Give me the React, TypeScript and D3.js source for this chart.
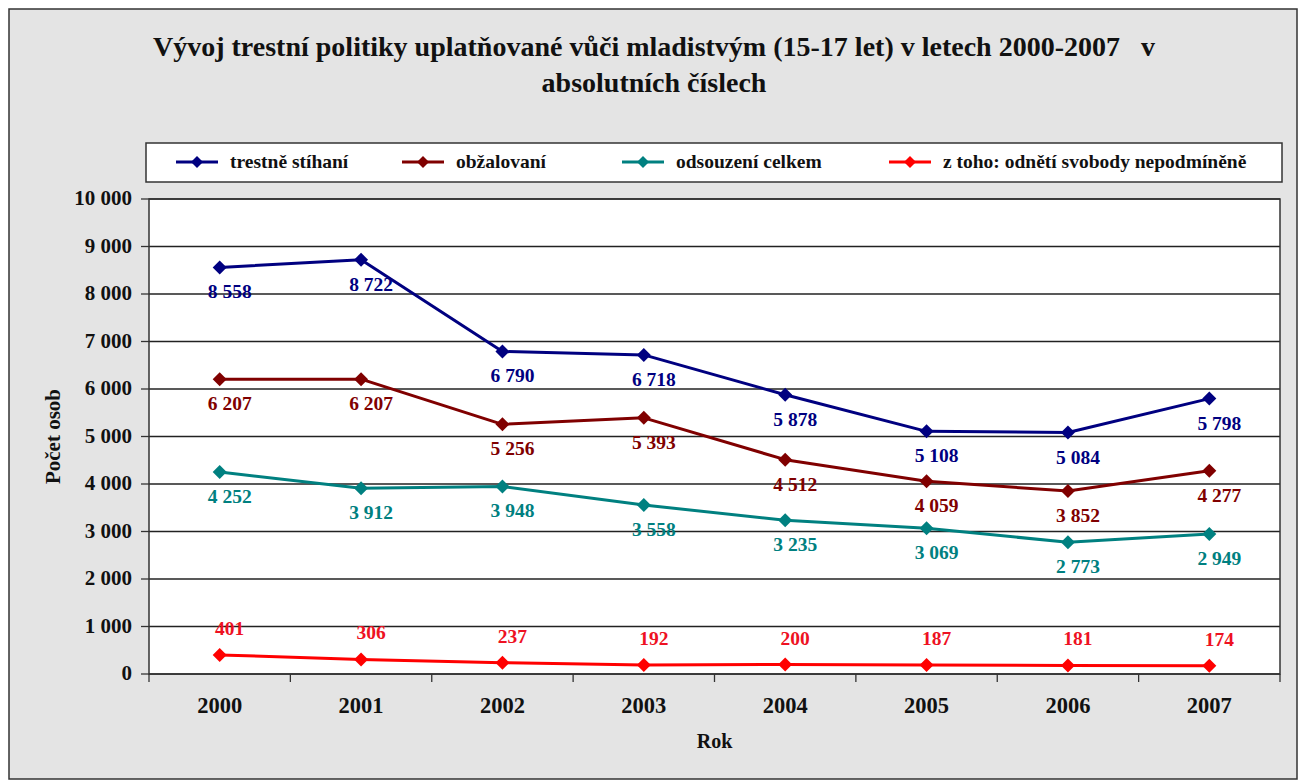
import React from "react";
import * as d3 from "d3";

const years = ["2000", "2001", "2002", "2003", "2004", "2005", "2006", "2007"];
const trestneStihani = [8558, 8722, 6790, 6718, 5878, 5108, 5084, 5798];
const obzalovani = [6207, 6207, 5256, 5393, 4512, 4059, 3852, 4277];
const odsouzeniCelkem = [4252, 3912, 3948, 3558, 3235, 3069, 2773, 2949];
const odnetiSvobody = [401, 306, 237, 192, 200, 187, 181, 174];
const yTicks = [0, 1000, 2000, 3000, 4000, 5000, 6000, 7000, 8000, 9000, 10000];
const seriesNames = ["trestně stíhaní", "obžalovaní", "odsouzení celkem", "z toho: odnětí svobody nepodmíněně"];

const titleLine1 = "Vývoj trestní politiky uplatňované vůči mladistvým (15-17 let) v letech 2000-2007   v";
const titleLine2 = "absolutních číslech";

const FONT = "'Liberation Serif', 'Times New Roman', 'DejaVu Serif', serif";

const fmt = (v: number) => {
  const s = String(v);
  return s.length > 3 ? s.slice(0, s.length - 3) + " " + s.slice(-3) : s;
};

export default function App() {
  const W = 1301, H = 781;
  const left = 149, right = 1280, top = 199, bottom = 674;
  const x = d3.scaleBand<string>().domain(years).range([left, right]).padding(0);
  const y = d3.scaleLinear().domain([0, 10000]).range([bottom, top]);
  const cx = (yr: string) => (x(yr) as number) + x.bandwidth() / 2;

  const series = [
    { name: seriesNames[0], values: trestneStihani, color: "#000080", label: "#000080", pos: "below" },
    { name: seriesNames[1], values: obzalovani, color: "#800000", label: "#800000", pos: "below" },
    { name: seriesNames[2], values: odsouzeniCelkem, color: "#008080", label: "#008080", pos: "below" },
    { name: seriesNames[3], values: odnetiSvobody, color: "#ff0000", label: "#ee1122", pos: "above" },
  ];

  const line = d3
    .line<number>()
    .x((_, i) => cx(years[i]))
    .y((v) => y(v));

  const diamond = (r: number) => `M0,${-r}L${r},0L0,${r}L${-r},0Z`;

  const legendIcons = [176, 402, 622, 889];
  const legendY = 162;
  const txt: React.CSSProperties = { fontFamily: FONT, fontWeight: 700 };

  const boundaries = [left, ...years.map((yr) => (x(yr) as number) + x.bandwidth())];

  return (
    <svg width={W} height={H} style={{ position: "absolute", left: 0, top: 0, fontFamily: FONT }}>
      <rect x={9} y={9} width={1288} height={770} fill="#e4e4e4" stroke="#333" strokeWidth={1.5} />
      <text x={654} y={56} textAnchor="middle" fontSize={28} fill="#111" style={{ ...txt, whiteSpace: "pre" }}>
        {titleLine1}
      </text>
      <text x={654} y={92} textAnchor="middle" fontSize={28} fill="#111" style={txt}>
        {titleLine2}
      </text>

      {/* Legend */}
      <rect x={146} y={143} width={1136} height={39} fill="#fff" stroke="#333" strokeWidth={1.5} />
      {series.map((s, i) => (
        <g key={s.name} transform={`translate(${legendIcons[i]},${legendY})`}>
          <line x1={0} x2={42} y1={0} y2={0} stroke={s.color} strokeWidth={3} />
          <path d={diamond(6)} transform="translate(21,0)" fill={s.color} />
          <text x={54} y={6} fontSize={19.5} fill="#111" style={txt}>
            {s.name}
          </text>
        </g>
      ))}

      {/* Plot area */}
      <rect x={left} y={top} width={right - left} height={bottom - top} fill="#fff" />
      {yTicks.map((t) => (
        <g key={t}>
          <line x1={left} x2={right} y1={y(t)} y2={y(t)} stroke="#222" strokeWidth={1.3} />
          <line x1={141} x2={left} y1={y(t)} y2={y(t)} stroke="#333" strokeWidth={1.3} />
          <text x={132} y={y(t) + 6} textAnchor="end" fontSize={21} fill="#111" style={txt}>
            {fmt(t)}
          </text>
        </g>
      ))}
      <rect x={left} y={top} width={right - left} height={bottom - top} fill="none" stroke="#333" strokeWidth={1.5} />
      {boundaries.map((b, i) => (
        <line key={i} x1={b} x2={b} y1={bottom} y2={bottom + 8} stroke="#333" strokeWidth={1.3} />
      ))}
      {years.map((yr) => (
        <text key={yr} x={cx(yr)} y={713} textAnchor="middle" fontSize={22.5} fill="#111" style={txt}>
          {yr}
        </text>
      ))}
      <text x={(left + right) / 2} y={748} textAnchor="middle" fontSize={20} fill="#111" style={txt}>
        Rok
      </text>
      <text
        transform={`translate(60,${(top + bottom) / 2}) rotate(-90)`}
        textAnchor="middle"
        fontSize={21}
        fill="#111"
        style={txt}
      >
        Počet osob
      </text>

      {/* Series */}
      {series.map((s) => (
        <g key={s.name}>
          <path d={line(s.values) || ""} fill="none" stroke={s.color} strokeWidth={3} strokeLinejoin="round" />
          {s.values.map((v, i) => (
            <path key={i} d={diamond(7)} transform={`translate(${cx(years[i])},${y(v)})`} fill={s.color} />
          ))}
          {s.values.map((v, i) => (
            <text
              key={"l" + i}
              x={cx(years[i]) + 10}
              y={s.pos === "below" ? y(v) + 31 : y(v) - 20}
              textAnchor="middle"
              fontSize={19.5}
              fill={s.label}
              style={txt}
            >
              {fmt(v)}
            </text>
          ))}
        </g>
      ))}
    </svg>
  );
}
